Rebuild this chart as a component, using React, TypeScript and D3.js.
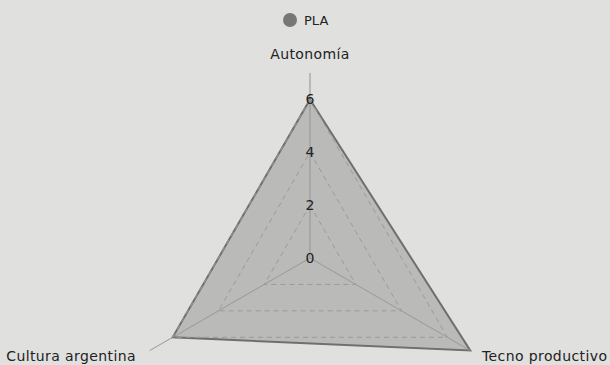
import React from "react";
import * as d3 from "d3";

const axes = ["Autonomía", "Tecno productivo", "Cultura argentina"];
const seriesName = "PLA";
const values = [6, 7, 6];
const ticks = [0, 2, 4, 6];
const maxValue = 7;

const W = 610, H = 365;
const cx = 310, cy = 258;
const R = 185;
const FONT = "'DejaVu Sans', sans-serif";

export default function App() {
  const r = d3.scaleLinear().domain([0, maxValue]).range([0, R]);
  const angle = (i: number) => (i * 2 * Math.PI) / axes.length;
  const pt = (i: number, v: number): [number, number] => [
    cx + r(v) * Math.sin(angle(i)),
    cy - r(v) * Math.cos(angle(i)),
  ];
  const line = d3.line<[number, number]>().curve(d3.curveLinearClosed);
  const dataPts = values.map((v, i) => pt(i, v));

  return (
    <svg
      width={W}
      height={H}
      style={{ position: "fixed", left: 0, top: 0, display: "block", background: "#e0e0df" }}
      fontFamily={FONT}
    >
      {axes.map((_, i) => {
        const [x, y] = pt(i, maxValue);
        return <line key={"ax" + i} x1={cx} y1={cy} x2={x} y2={y} stroke="#a3a3a3" strokeWidth={1} />;
      })}
      <path d={line(dataPts) || ""} fill="rgba(140,140,140,0.45)" stroke="#6f6f6f" strokeWidth={2} strokeLinejoin="miter" />
      {ticks.filter((t) => t > 0).map((t) => (
        <path
          key={"g" + t}
          d={line(axes.map((_, i) => pt(i, t))) || ""}
          fill="none"
          stroke="#9a9a9a"
          strokeWidth={1}
          strokeDasharray="5,4"
        />
      ))}
      {axes.map((_, i) => {
        const [x, y] = pt(i, maxValue);
        return <line key={"ax2" + i} x1={cx} y1={cy} x2={x} y2={y} stroke="#a3a3a3" strokeOpacity={0.6} strokeWidth={1} />;
      })}
      {ticks.map((t) => (
        <text key={"t" + t} x={cx} y={cy - r(t)} textAnchor="middle" dominantBaseline="central" fontSize={14} fill="#222">
          {t}
        </text>
      ))}
      <text x={cx} y={54} textAnchor="middle" dominantBaseline="central" fontSize={14} letterSpacing={0.4} fill="#222">{axes[0]}</text>
      <text x={482} y={356} textAnchor="start" dominantBaseline="central" fontSize={14} letterSpacing={0.4} fill="#222">{axes[1]}</text>
      <text x={136} y={356} textAnchor="end" dominantBaseline="central" fontSize={14} letterSpacing={0.4} fill="#222">{axes[2]}</text>
      <circle cx={290} cy={20} r={7} fill="#777" />
      <text x={304} y={20} dominantBaseline="central" fontSize={13} fill="#222">{seriesName}</text>
    </svg>
  );
}
